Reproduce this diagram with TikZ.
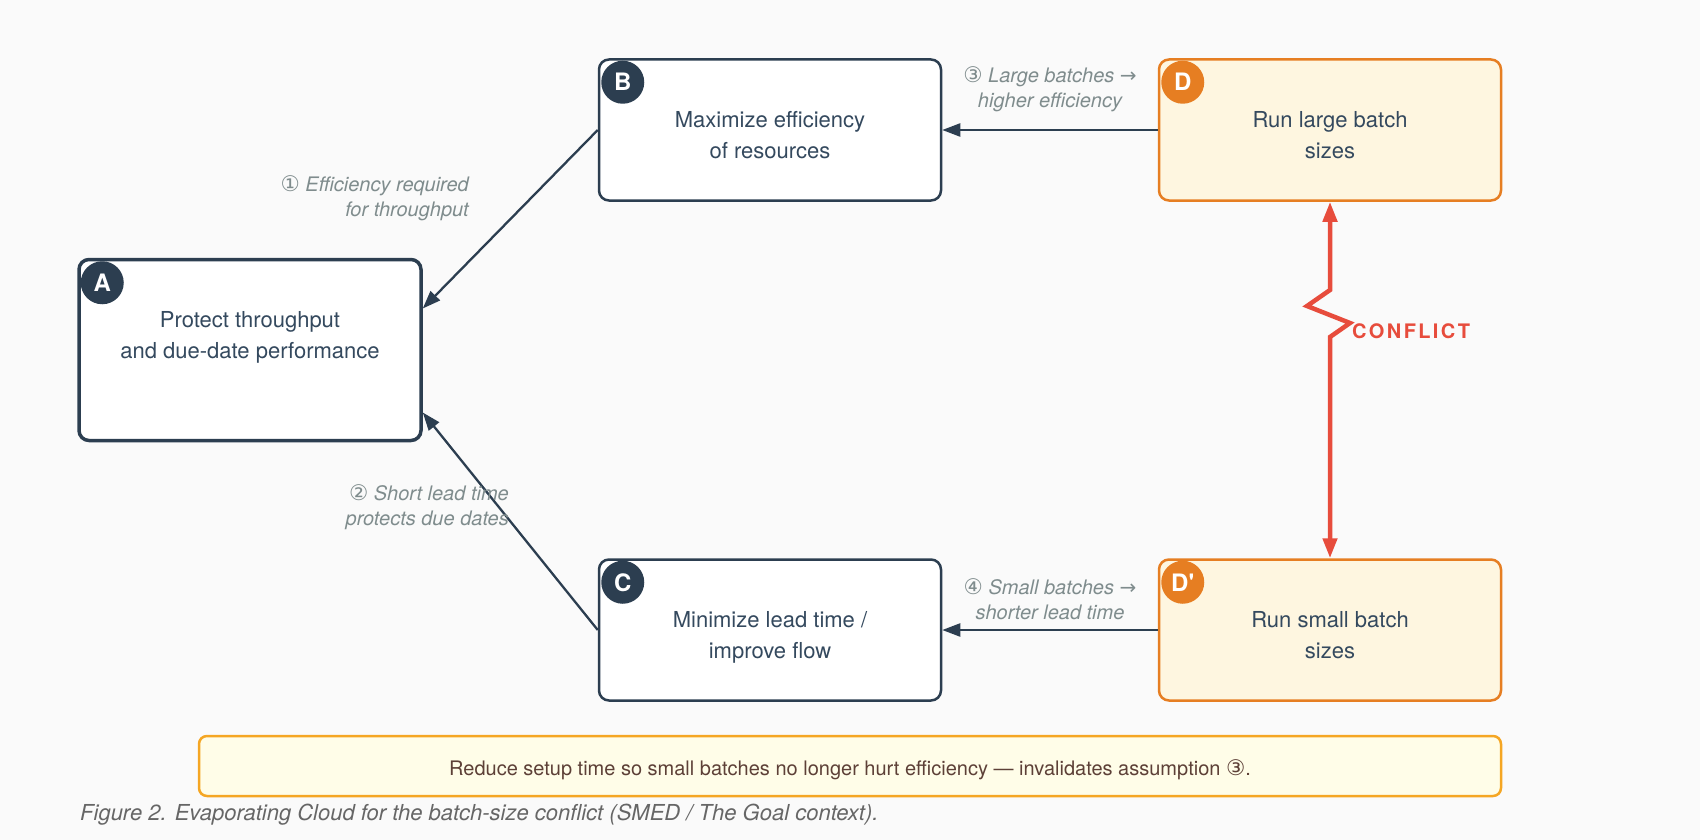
\documentclass[tikz,border=0pt]{standalone}
\usepackage{fontspec}
\setmainfont{TeX Gyre Heros}
\newfontfamily\symfont{DejaVu Sans}
\newfontfamily\conflictfont[LetterSpace=12]{TeX Gyre Heros}
\usetikzlibrary{arrows.meta,calc}
\definecolor{navy}{HTML}{2C3E50}
\definecolor{boxtext}{HTML}{34495E}
\definecolor{labelgrey}{HTML}{7F8C8D}
\definecolor{dorange}{HTML}{E67E22}
\definecolor{dfill}{HTML}{FEF6E0}
\definecolor{cred}{HTML}{E74C3C}
\definecolor{bannerline}{HTML}{F5A623}
\definecolor{bannerfill}{HTML}{FFFDE8}
\definecolor{bannertext}{HTML}{5D4037}
\definecolor{bg}{HTML}{FAFAFA}
\definecolor{captiongrey}{HTML}{666666}
\newcommand\twoc[2]{\begin{tabular}[t]{@{}c@{}}#1\\#2\end{tabular}}
\newcommand\twor[2]{\begin{tabular}[t]{@{}r@{}}#1\\#2\end{tabular}}
\newcommand\circnum[1]{{\symfont\upshape\fontsize{21.5}{25}\selectfont #1}}
\begin{document}
\begin{tikzpicture}[x=1pt,y=-1pt,
  cbox/.style={draw=navy, fill=white, line width=2.5pt, rounded corners=10pt, minimum width=342pt, minimum height=141pt, inner sep=0pt},
  abox/.style={cbox, line width=3.5pt, minimum height=181pt},
  dbox/.style={cbox, draw=dorange, fill=dfill},
  badge/.style={circle, fill=navy, text=white, minimum size=43pt, inner sep=0pt, font=\fontsize{24}{24}\selectfont\bfseries},
  dbadge/.style={badge, fill=dorange},
  boxtxt/.style={anchor=base, inner sep=0pt, text=boxtext, font=\fontsize{22}{31}\selectfont},
  lbl/.style={inner sep=0pt, text=labelgrey, font=\fontsize{20}{25}\selectfont\itshape},
  link/.style={draw=navy, line width=2.3pt, -{Triangle[length=18pt,width=13pt]}},
  conflict/.style={draw=cred, line width=4.5pt, line join=miter, {Triangle[length=20pt,width=14pt]}-{Triangle[length=20pt,width=14pt]}},
]
\useasboundingbox (0,0) rectangle (1700,840);
\fill[bg] (0,0) rectangle (1700,840);

% boxes
\node[abox] (A) at (250,350) {};
\node[cbox] (B) at (770,130) {};
\node[dbox] (D) at (1330,130) {};
\node[cbox] (C) at (770,630) {};
\node[dbox] (Dp) at (1330,630) {};

% badges
\node[badge] (bA) at ($(A.north west)+(25,25)$) {A};
\node[badge] (bB) at ($(B.north west)+(25,24)$) {B};
\node[dbadge] (bD) at ($(D.north west)+(25,24)$) {D};
\node[badge] (bC) at ($(C.north west)+(25,24)$) {C};
\node[dbadge] (bDp) at ($(Dp.north west)+(25,24)$) {D\textquotesingle};

% box texts
\node[boxtxt] (tA) at ($(A.north)+(0,69.5)$) {\twoc{Protect throughput}{and due-date performance}};
\node[boxtxt] (tB) at ($(B.north)+(0,69)$) {\twoc{Maximize efficiency}{of resources}};
\node[boxtxt] (tD) at ($(D.north)+(0,69)$) {\twoc{Run large batch}{sizes}};
\node[boxtxt] (tC) at ($(C.north)+(0,69)$) {\twoc{Minimize lead time /}{improve flow}};
\node[boxtxt] (tDp) at ($(Dp.north)+(0,69)$) {\twoc{Run small batch}{sizes}};

% connectors
\coordinate (A1) at ($(A.east)+(0,-41.5)$);
\coordinate (A2) at ($(A.east)+(0,62.5)$);
\draw[link] (B.west) -- (A1);
\draw[link] (C.west) -- (A2);
\draw[link] (D.west) -- (B.east);
\draw[link] (Dp.west) -- (C.east);

% labels
\node[lbl, anchor=base east] (l1) at (469,191) {\twor{\circnum{①} Efficiency required}{for throughput}};
\node[lbl, anchor=base east] (l2) at (509,500) {\twor{\circnum{②} Short lead time}{protects due dates}};
\node[lbl, anchor=base] (l3) at (1050,83) {\twoc{\circnum{③} Large batches {\symfont\upshape →}}{higher efficiency}};
\node[lbl, anchor=base] (l4) at (1050,594) {\twoc{\circnum{④} Small batches {\symfont\upshape →}}{shorter lead time}};

% conflict
\coordinate (z1) at (1330,290);
\coordinate (z2) at (1307,306);
\coordinate (z3) at (1350,323);
\coordinate (z4) at (1330,337);
\draw[conflict] (D.south) -- (z1) -- (z2) -- (z3) -- (z4) -- (Dp.north);
\node[anchor=base west, inner sep=0pt, text=cred, font=\fontsize{20}{20}\conflictfont\bfseries] (cf) at (1352,338) {CONFLICT};

% banner
\node[draw=bannerline, fill=bannerfill, line width=2.5pt, rounded corners=8pt, minimum width=1302pt, minimum height=60pt, inner sep=0pt] (ban) at (850,766) {};
\node[anchor=base, inner sep=0pt, text=bannertext, font=\fontsize{20}{22}\selectfont] (bt) at (850,775) {Reduce setup time so small batches no longer hurt efficiency — invalidates assumption \circnum{③}.};

% caption
\node[anchor=base west, inner sep=0pt, text=captiongrey, font=\fontsize{22}{24}\selectfont\itshape] (cap) at (80,820) {Figure 2. Evaporating Cloud for the batch-size conflict (SMED / The Goal context).};
\end{tikzpicture}
\end{document}
